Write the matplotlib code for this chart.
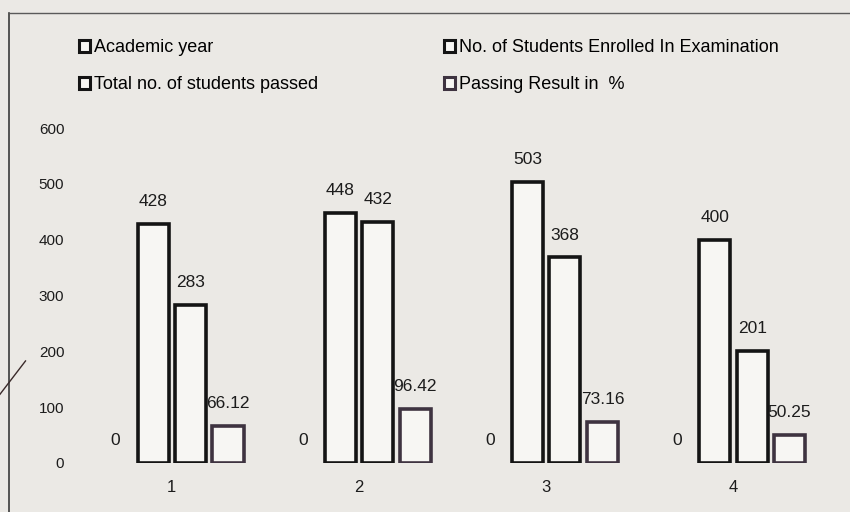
import numpy as np
import matplotlib
matplotlib.use('Agg')
import matplotlib.pyplot as plt  # noqa
from matplotlib.lines import Line2D
from matplotlib.patches import Patch

categories = ['1', '2', '3', '4']
series_names = ['Academic year',
                'No. of Students Enrolled In Examination',
                'Total no. of students passed',
                'Passing Result in  %']
academic_year = [0, 0, 0, 0]
enrolled = [428, 448, 503, 400]
passed = [283, 432, 368, 201]
passing_pct = [66.12, 96.42, 73.16, 50.25]
pct_labels = ['66.12', '96.42', '73.16', '50.25']
y_ticks = [0, 100, 200, 300, 400, 500, 600]

COLOR_BG = '#ebe9e5'
COLOR_FILL = '#f7f6f3'
COLOR_EDGE = '#141414'
COLOR_EDGE_PCT = '#3e3340'
COLOR_TEXT = '#1c1c1c'

plt.rcParams['font.family'] = ['Liberation Sans', 'DejaVu Sans']

fig = plt.figure(figsize=(8.5, 5.12), dpi=100, facecolor=COLOR_BG)
ax = fig.add_axes([0.092, 0.096, 0.881, 0.654])
ax.set_facecolor('none')

x = np.arange(len(categories))
width = 0.2
series = [academic_year, enrolled, passed, passing_pct]
labels = [[str(v) for v in academic_year],
          [str(v) for v in enrolled],
          [str(v) for v in passed],
          pct_labels]
edges = [COLOR_EDGE, COLOR_EDGE, COLOR_EDGE, COLOR_EDGE_PCT]

for i, (vals, labs, ec) in enumerate(zip(series, labels, edges)):
    pos = x + (i - 1.5) * width
    bars = ax.bar(pos, vals, width * 0.83, color=COLOR_FILL, edgecolor=ec,
                  linewidth=2.6)
    for b, lab in zip(bars, labs):
        if b.get_height() == 0:
            # zero-height bar: no outline visible, only its label
            b.set_linewidth(0)
        ax.annotate(lab, (b.get_x() + b.get_width() / 2, b.get_height()),
                    xytext=(0, 16), textcoords='offset points',
                    ha='center', va='center', fontsize=12.5, color=COLOR_TEXT)

ax.set_xlim(-0.5, len(categories) - 0.5)
ax.set_ylim(0, 600)
ax.set_xticks(x)
ax.set_xticklabels(categories)
ax.set_yticks(y_ticks)
ax.tick_params(length=0, labelsize=11, colors=COLOR_TEXT)
ax.tick_params(axis='x', pad=12, labelsize=12)
ax.tick_params(axis='y', pad=10)
for sp in ax.spines.values():
    sp.set_visible(False)

# legend, 2 x 2
handles = [Patch(facecolor=COLOR_FILL, edgecolor=c, linewidth=2.2) for c in edges]
order = [0, 2, 1, 3]
fig.legend([handles[k] for k in order], [series_names[k] for k in order],
           ncol=2, loc='upper left', bbox_to_anchor=(0.074, 0.955),
           frameon=False, fontsize=13, handlelength=0.6, handleheight=0.6,
           handletextpad=0.2, columnspacing=7.0, labelspacing=1.1)

# scanned page frame and pen mark
fig.add_artist(Line2D([0.01, 0.01], [0.0, 0.975], color='#3a3a3a', lw=1.2))
fig.add_artist(Line2D([0.012, 1.0], [0.975, 0.975], color='#5a5a5a', lw=1.0))
fig.add_artist(Line2D([0.0, 0.03], [0.23, 0.295], color='#3a2a2a', lw=1.0))

fig.savefig('out.png', dpi=100, facecolor=COLOR_BG)
